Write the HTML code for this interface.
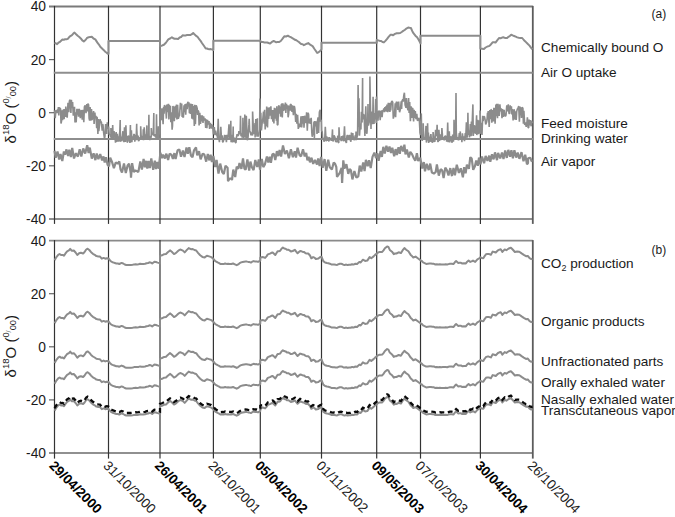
<!DOCTYPE html>
<html><head><meta charset="utf-8"><style>
html,body{margin:0;padding:0;background:#fff;}
body{width:675px;height:517px;overflow:hidden;font-family:"Liberation Sans",sans-serif;}
svg{display:block;}
</style></head><body>
<svg width="675" height="517" viewBox="0 0 675 517">
<rect width="675" height="517" fill="#fff"/>
<line x1="49" y1="6.5" x2="532.8" y2="6.5" stroke="#7a7a7a" stroke-width="1.8"/>
<line x1="49" y1="218.9" x2="532.8" y2="218.9" stroke="#909090" stroke-width="2"/>
<line x1="49" y1="59.6" x2="54.5" y2="59.6" stroke="#666" stroke-width="1.2"/>
<line x1="49" y1="112.7" x2="54.5" y2="112.7" stroke="#666" stroke-width="1.2"/>
<line x1="49" y1="165.8" x2="54.5" y2="165.8" stroke="#666" stroke-width="1.2"/>
<line x1="49" y1="240.7" x2="532.8" y2="240.7" stroke="#8a8a8a" stroke-width="1.8"/>
<line x1="49" y1="453.1" x2="532.8" y2="453.1" stroke="#909090" stroke-width="2"/>
<line x1="49" y1="293.7" x2="54.5" y2="293.7" stroke="#666" stroke-width="1.2"/>
<line x1="49" y1="346.8" x2="54.5" y2="346.8" stroke="#666" stroke-width="1.2"/>
<line x1="49" y1="399.9" x2="54.5" y2="399.9" stroke="#666" stroke-width="1.2"/>
<line x1="54.5" y1="5.9" x2="54.5" y2="223.9" stroke="#333" stroke-width="1.2"/>
<line x1="54.5" y1="240.1" x2="54.5" y2="458.6" stroke="#333" stroke-width="1.2"/>
<line x1="108.5" y1="5.9" x2="108.5" y2="223.9" stroke="#333" stroke-width="1.2"/>
<line x1="108.5" y1="240.1" x2="108.5" y2="458.6" stroke="#333" stroke-width="1.2"/>
<line x1="160.0" y1="5.9" x2="160.0" y2="223.9" stroke="#333" stroke-width="1.2"/>
<line x1="160.0" y1="240.1" x2="160.0" y2="458.6" stroke="#333" stroke-width="1.2"/>
<line x1="213.4" y1="5.9" x2="213.4" y2="223.9" stroke="#333" stroke-width="1.2"/>
<line x1="213.4" y1="240.1" x2="213.4" y2="458.6" stroke="#333" stroke-width="1.2"/>
<line x1="260.3" y1="5.9" x2="260.3" y2="223.9" stroke="#333" stroke-width="1.2"/>
<line x1="260.3" y1="240.1" x2="260.3" y2="458.6" stroke="#333" stroke-width="1.2"/>
<line x1="321.5" y1="5.9" x2="321.5" y2="223.9" stroke="#333" stroke-width="1.2"/>
<line x1="321.5" y1="240.1" x2="321.5" y2="458.6" stroke="#333" stroke-width="1.2"/>
<line x1="376.7" y1="5.9" x2="376.7" y2="223.9" stroke="#333" stroke-width="1.2"/>
<line x1="376.7" y1="240.1" x2="376.7" y2="458.6" stroke="#333" stroke-width="1.2"/>
<line x1="420.5" y1="5.9" x2="420.5" y2="223.9" stroke="#333" stroke-width="1.2"/>
<line x1="420.5" y1="240.1" x2="420.5" y2="458.6" stroke="#333" stroke-width="1.2"/>
<line x1="480.4" y1="5.9" x2="480.4" y2="223.9" stroke="#333" stroke-width="1.2"/>
<line x1="480.4" y1="240.1" x2="480.4" y2="458.6" stroke="#333" stroke-width="1.2"/>
<line x1="532.8" y1="5.9" x2="532.8" y2="223.9" stroke="#5c5c5c" stroke-width="1.8"/>
<line x1="532.8" y1="240.1" x2="532.8" y2="458.6" stroke="#5c5c5c" stroke-width="1.8"/>
<line x1="53.8" y1="72.7" x2="532.8" y2="72.7" stroke="#8e8e8e" stroke-width="2"/>
<line x1="53.8" y1="139" x2="532.8" y2="139" stroke="#8e8e8e" stroke-width="2"/>
<polyline fill="none" stroke="#8c8c8c" stroke-width="2" stroke-linejoin="round" points="54.5,43.0 55.8,43.3 57.1,44.1 58.4,42.7 59.8,42.0 61.1,40.8 62.4,39.6 63.8,39.7 65.1,39.2 66.5,39.3 67.8,38.9 69.6,36.6 70.8,35.8 72.0,35.1 73.3,33.6 74.5,32.6 76.1,34.3 77.7,35.8 79.3,37.0 80.8,38.4 82.3,40.4 83.8,41.4 85.5,40.0 87.3,37.7 88.8,37.3 90.3,36.9 91.8,36.8 93.5,38.5 95.3,39.4 96.6,41.4 97.8,43.2 99.1,44.8 100.3,46.7 101.6,48.1 102.8,49.2 104.1,50.4 105.3,51.8 106.6,52.7 107.8,53.8 108.5,53.8 108.5,41.0 109.7,41.0 111.0,41.0 112.2,41.0 113.4,41.0 114.6,41.0 115.9,41.0 117.1,41.0 118.3,41.0 119.5,41.0 120.8,41.0 122.0,41.0 123.2,41.0 124.4,41.0 125.7,41.0 126.9,41.0 128.1,41.0 129.3,41.0 130.6,41.0 131.8,41.0 133.0,41.0 134.2,41.0 135.5,41.0 136.7,41.0 137.9,41.0 139.2,41.0 140.4,41.0 141.6,41.0 142.8,41.0 144.1,41.0 145.3,41.0 146.5,41.0 147.7,41.0 149.0,41.0 150.2,41.0 151.4,41.0 152.6,41.0 153.9,41.0 155.1,41.0 156.3,41.0 157.5,41.0 158.8,41.0 160.0,41.0 160.0,46.2 161.3,45.9 162.6,45.3 163.9,44.8 165.4,43.3 166.8,41.5 168.3,39.4 170.1,38.5 171.9,37.2 173.2,38.2 174.6,38.7 176.3,38.7 178.1,38.9 179.6,37.5 181.1,37.0 182.6,35.3 184.1,35.4 185.5,35.4 187.0,35.1 188.8,35.1 190.6,34.9 191.9,34.2 193.2,33.0 194.7,34.6 196.2,35.9 197.7,37.0 199.2,39.2 200.6,40.9 202.1,43.2 203.9,45.8 205.7,48.5 206.9,48.5 208.2,49.0 209.4,49.3 210.7,49.1 211.9,49.4 213.4,50.0 213.4,40.8 214.6,40.8 215.8,40.8 217.0,40.8 218.2,40.8 219.4,40.8 220.6,40.8 221.8,40.8 223.0,40.8 224.2,40.8 225.4,40.8 226.6,40.8 227.8,40.8 229.0,40.8 230.2,40.8 231.4,40.8 232.6,40.8 233.8,40.8 235.0,40.8 236.2,40.8 237.5,40.8 238.7,40.8 239.9,40.8 241.1,40.8 242.3,40.8 243.5,40.8 244.7,40.8 245.9,40.8 247.1,40.8 248.3,40.8 249.5,40.8 250.7,40.8 251.9,40.8 253.1,40.8 254.3,40.8 255.5,40.8 256.7,40.8 257.9,40.8 259.1,40.8 260.3,40.8 260.3,41.4 261.6,42.0 263.0,42.1 264.4,42.4 265.7,42.4 267.2,42.5 268.6,43.0 270.1,43.6 271.9,41.9 273.7,41.0 275.0,41.6 276.3,42.3 277.8,41.9 279.3,41.9 280.8,41.0 282.6,38.7 284.3,36.3 286.1,36.5 287.9,35.7 289.4,36.6 290.8,37.2 292.3,38.1 293.6,38.9 295.0,39.8 296.4,40.3 297.7,41.2 298.9,42.0 300.2,43.2 301.4,44.1 302.7,44.3 303.9,45.2 305.4,44.4 306.8,43.7 308.3,43.1 309.8,44.4 311.3,45.3 312.8,46.4 314.3,48.7 315.7,50.7 317.2,52.9 318.5,52.3 319.9,51.2 321.5,49.3 321.5,42.7 322.7,42.7 324.0,42.7 325.2,42.7 326.4,42.7 327.6,42.7 328.9,42.7 330.1,42.7 331.3,42.7 332.5,42.7 333.8,42.7 335.0,42.7 336.2,42.7 337.4,42.7 338.7,42.7 339.9,42.7 341.1,42.7 342.4,42.7 343.6,42.7 344.8,42.7 346.0,42.7 347.3,42.7 348.5,42.7 349.7,42.7 350.9,42.7 352.2,42.7 353.4,42.7 354.6,42.7 355.8,42.7 357.1,42.7 358.3,42.7 359.5,42.7 360.8,42.7 362.0,42.7 363.2,42.7 364.4,42.7 365.7,42.7 366.9,42.7 368.1,42.7 369.3,42.7 370.6,42.7 371.8,42.7 373.0,42.7 374.2,42.7 375.5,42.7 376.7,42.7 376.7,39.9 378.2,40.4 379.8,40.9 381.2,41.0 382.5,42.0 383.9,42.4 385.4,40.9 386.9,39.2 388.6,36.9 390.4,34.8 391.8,34.7 393.1,35.2 394.9,33.9 396.7,33.3 398.4,33.3 400.2,33.0 401.7,32.0 403.2,30.9 404.7,30.0 406.4,28.6 408.2,27.5 409.5,27.8 410.9,28.0 412.2,30.9 413.6,33.4 415.4,35.7 417.1,37.3 418.8,40.1 420.5,43.4 420.5,35.8 421.7,35.8 422.9,35.8 424.2,35.8 425.4,35.8 426.6,35.8 427.8,35.8 429.1,35.8 430.3,35.8 431.5,35.8 432.7,35.8 433.9,35.8 435.2,35.8 436.4,35.8 437.6,35.8 438.8,35.8 440.1,35.8 441.3,35.8 442.5,35.8 443.7,35.8 444.9,35.8 446.2,35.8 447.4,35.8 448.6,35.8 449.8,35.8 451.1,35.8 452.3,35.8 453.5,35.8 454.7,35.8 456.0,35.8 457.2,35.8 458.4,35.8 459.6,35.8 460.8,35.8 462.1,35.8 463.3,35.8 464.5,35.8 465.7,35.8 467.0,35.8 468.2,35.8 469.4,35.8 470.6,35.8 471.8,35.8 473.1,35.8 474.3,35.8 475.5,35.8 476.7,35.8 478.0,35.8 479.2,35.8 480.4,35.8 480.4,48.5 482.1,48.8 483.9,49.1 485.6,47.5 487.4,46.5 488.9,46.1 490.3,45.2 492.6,42.3 494.1,42.3 495.5,42.6 497.2,40.4 499.0,38.0 500.6,38.2 502.1,37.6 503.7,37.3 505.4,38.1 507.1,38.0 508.5,36.8 509.8,36.0 511.2,34.7 512.6,35.4 514.1,36.0 515.7,36.7 517.2,37.4 518.8,37.8 520.5,38.0 522.2,38.0 523.8,40.0 525.3,41.4 526.9,43.1 528.3,44.4 529.7,45.9 531.1,47.8 532.5,49.2"/>
<polyline fill="none" stroke="#8c8c8c" stroke-width="1.6" stroke-linejoin="bevel" points="54.5,110.3 55.2,118.1 55.9,110.9 56.3,110.5 57.0,113.1 57.5,109.4 57.8,112.8 58.4,107.0 58.8,115.5 59.2,107.6 59.8,108.1 60.6,109.1 61.0,123.6 61.5,121.3 62.1,110.3 62.6,120.2 63.2,109.8 63.7,110.1 64.1,119.2 64.7,109.1 65.4,116.9 65.8,106.6 66.6,115.5 67.2,117.6 68.0,102.8 68.8,112.3 69.4,100.9 70.2,99.8 70.9,113.0 71.4,99.8 72.1,108.2 72.6,102.0 73.3,115.6 73.7,111.7 74.5,106.8 75.0,122.4 75.3,112.3 75.7,121.9 76.2,121.7 76.9,108.8 77.5,114.6 77.9,108.9 78.5,116.8 78.9,109.2 79.6,109.8 80.3,118.2 81.0,111.1 81.7,110.2 82.2,119.8 83.0,109.7 83.8,122.1 84.4,106.9 85.2,105.4 86.0,113.2 86.8,104.1 87.3,111.5 87.9,103.6 88.6,104.9 89.1,118.4 89.6,120.5 90.1,107.1 90.8,120.6 91.5,109.1 92.0,120.2 92.8,116.4 93.6,111.0 94.1,123.9 94.9,112.5 95.3,118.1 96.0,115.9 96.7,128.3 97.1,116.7 97.9,133.9 98.4,119.0 98.8,131.1 99.6,124.3 100.1,119.3 100.6,121.5 101.4,122.1 102.2,130.8 102.6,124.2 103.0,124.9 103.6,132.3 104.4,138.2 104.9,137.0 105.6,124.0 106.2,129.3 106.7,134.0 107.3,122.4 107.9,128.8 108.6,126.5 109.2,134.8 109.6,134.4 110.2,135.3 110.9,137.5 110.9,128.1 111.5,136.4 112.2,139.0 112.7,125.0 113.2,139.6 114.0,131.3 114.8,134.7 115.5,142.6 116.3,137.5 116.2,132.1 116.7,141.9 117.2,133.9 117.8,141.3 118.4,136.3 118.7,141.7 119.4,134.9 119.8,131.8 120.2,120.1 120.4,141.5 120.7,141.2 121.4,136.5 121.9,141.1 122.3,136.4 122.9,131.2 123.1,140.3 123.5,135.0 123.9,142.1 124.5,127.3 125.2,142.0 125.9,125.2 126.4,140.2 126.9,136.1 127.0,142.1 127.7,142.0 128.3,135.5 129.1,138.2 129.9,142.9 130.4,125.0 130.7,142.4 131.4,130.2 131.9,142.3 132.3,136.3 133.2,139.8 133.7,135.4 134.0,133.9 134.4,135.0 134.8,141.7 135.6,134.8 136.1,140.3 136.7,123.8 136.7,128.1 137.4,139.9 138.1,135.5 138.5,141.1 139.2,140.1 140.0,137.3 140.6,139.1 140.7,126.3 141.1,135.3 141.7,139.0 142.4,136.0 143.0,138.6 143.3,129.4 143.5,140.2 144.2,127.2 145.0,139.4 145.8,134.3 146.4,139.1 146.9,125.4 147.0,139.4 147.8,135.5 148.5,139.6 148.9,114.8 149.1,135.8 149.8,140.1 150.5,135.8 151.2,137.7 151.3,128.1 151.9,135.1 152.6,133.2 153.3,134.4 153.8,113.0 153.9,136.1 154.7,134.1 155.4,136.9 156.2,137.1 156.5,114.3 156.9,138.1 157.5,134.1 158.2,139.3 158.4,126.3 158.9,131.7 159.6,134.6 160.1,109.0 160.5,120.4 161.0,108.5 161.5,120.3 162.1,108.2 162.7,117.5 163.1,124.2 163.6,106.7 164.1,113.8 164.5,105.0 165.2,106.5 165.6,105.9 166.4,118.6 166.8,105.3 167.3,104.7 167.8,112.2 168.4,103.9 168.9,119.4 169.3,104.8 169.8,114.0 170.4,105.7 170.8,122.3 171.5,112.3 172.1,129.7 172.5,126.0 172.9,106.1 173.6,107.5 174.3,121.3 175.2,106.0 175.5,106.4 176.1,117.8 176.5,104.6 176.9,119.4 177.6,104.9 178.3,118.7 179.1,115.9 179.5,115.7 180.4,102.8 180.9,109.5 181.7,103.6 182.1,116.8 182.7,116.5 183.4,117.5 184.0,105.4 184.5,112.2 185.1,104.1 185.7,114.6 186.4,103.5 187.2,109.2 187.8,101.7 188.4,106.5 188.9,102.2 189.4,113.3 189.9,103.5 190.4,114.0 191.2,103.9 191.9,118.6 192.4,104.1 193.2,119.5 193.7,106.1 194.3,126.1 194.7,104.8 195.4,124.2 196.1,105.2 196.7,106.6 197.2,108.4 197.6,114.9 198.0,110.5 198.6,111.4 199.1,125.5 199.8,112.9 200.5,124.0 201.2,115.3 201.7,121.4 202.3,115.4 203.0,122.9 203.6,116.3 204.3,120.6 205.1,118.4 205.7,127.9 206.3,119.3 206.9,128.1 207.5,119.8 208.3,124.5 209.0,121.0 209.6,129.0 210.4,122.8 210.9,128.1 211.6,124.2 212.2,128.8 212.6,125.1 213.5,134.5 214.3,127.0 215.0,135.1 215.6,130.7 216.3,134.3 217.2,135.9 217.6,138.1 218.2,118.8 218.8,137.2 219.4,142.2 219.8,137.0 220.2,139.9 220.8,126.7 221.5,139.1 222.1,135.4 222.6,141.9 223.1,142.0 223.7,140.1 224.6,134.8 225.2,139.1 225.7,135.0 226.4,142.1 226.9,134.7 227.6,138.7 228.3,134.1 229.0,124.4 229.6,138.7 230.1,136.4 230.6,135.7 230.8,120.7 231.1,142.3 231.7,134.7 232.4,142.4 232.9,137.4 233.2,126.5 233.3,136.8 234.0,142.1 234.5,137.5 235.0,140.8 235.5,142.6 236.0,142.7 236.5,137.1 237.1,134.2 237.7,136.0 238.4,135.4 238.9,131.1 239.5,134.3 240.2,131.3 240.5,115.8 241.0,136.2 241.7,133.4 242.2,137.7 242.8,132.0 242.9,117.7 243.6,137.9 244.0,131.9 244.6,132.2 244.8,114.4 245.2,137.5 245.6,131.5 246.2,139.6 246.3,115.8 246.9,129.8 247.3,140.3 248.1,137.0 248.9,124.9 249.2,118.7 249.7,132.1 250.3,131.5 251.0,135.4 251.8,132.3 252.5,135.6 252.6,111.5 253.2,124.6 253.8,134.0 254.2,132.0 254.6,129.5 255.0,123.1 255.1,137.5 255.8,119.1 256.5,129.5 257.0,136.7 257.4,118.2 257.5,132.3 258.3,136.6 258.9,134.8 259.6,129.5 259.9,98.4 260.4,117.5 260.8,112.7 261.4,130.4 262.2,122.4 262.9,118.3 263.5,111.6 264.1,123.8 264.6,109.7 265.2,129.5 265.8,116.7 266.2,126.3 266.7,106.5 267.5,127.5 268.1,107.4 268.7,118.9 269.6,107.2 270.1,115.6 270.9,106.4 271.5,119.2 272.2,110.1 272.9,121.8 273.3,110.1 273.9,123.4 274.4,107.7 274.9,118.8 275.8,108.2 276.4,120.7 276.8,106.3 277.3,125.0 277.9,124.8 278.6,105.7 279.1,105.7 279.7,113.7 280.1,106.5 280.6,116.6 281.2,104.9 281.9,103.8 282.3,117.5 282.9,103.3 283.3,110.9 284.0,104.6 284.7,110.5 285.4,102.5 285.8,113.0 286.5,103.8 287.0,108.7 287.7,105.2 288.1,117.3 288.6,114.4 289.3,105.5 290.1,110.7 290.4,104.3 291.2,104.8 291.8,111.8 292.6,105.4 293.4,115.1 293.9,106.4 294.5,106.6 294.9,109.1 295.7,121.9 296.1,113.7 296.9,123.8 297.6,114.9 298.3,128.9 299.1,123.7 299.6,126.8 300.2,126.6 301.0,116.2 301.7,127.5 302.5,116.0 303.1,123.6 303.5,116.1 304.0,127.8 304.6,115.7 305.2,120.1 306.0,123.0 306.6,112.4 307.3,130.8 308.1,112.8 308.6,114.4 309.0,123.4 309.8,118.5 310.4,123.9 311.2,117.8 311.8,132.5 312.2,136.8 312.7,134.5 313.2,131.7 314.0,121.6 314.4,138.3 314.8,121.0 315.5,126.3 316.3,121.4 317.0,134.0 317.5,120.8 318.1,117.3 318.6,133.0 319.4,112.0 320.2,109.9 320.6,121.5 321.3,119.8 321.6,130.6 322.2,131.9 322.6,137.5 323.2,138.5 323.5,139.3 324.2,141.7 324.8,137.5 325.3,126.7 326.1,141.3 326.7,136.5 327.4,140.9 328.2,137.4 328.9,141.5 329.5,137.1 330.2,140.1 330.9,138.4 331.5,140.8 332.0,137.8 332.5,129.4 332.7,140.3 333.3,141.4 334.0,135.4 334.9,137.2 335.7,141.5 336.5,141.9 337.2,141.1 337.8,135.7 338.4,142.5 338.8,142.8 339.0,127.2 339.5,137.2 339.9,139.8 340.6,138.2 341.2,141.1 341.5,136.1 342.1,140.4 342.8,135.7 343.1,140.4 343.7,141.1 344.5,126.2 345.0,140.1 345.6,141.1 346.4,142.9 347.0,135.2 346.8,139.4 347.5,134.8 348.1,139.2 348.5,139.9 349.1,135.6 349.9,135.5 350.4,140.7 350.9,141.6 351.4,132.5 352.1,138.2 352.5,139.3 352.8,133.0 353.1,137.0 353.7,139.6 354.5,139.6 355.2,135.4 355.8,140.1 356.0,131.6 356.2,139.9 356.8,138.2 357.6,134.5 358.1,85.0 358.7,127.0 359.0,98.3 359.5,135.7 360.3,123.5 360.9,129.6 361.4,111.8 362.1,122.6 362.6,78.0 362.7,119.5 363.3,114.4 364.1,115.3 364.9,136.0 365.6,112.1 365.8,106.2 366.4,132.0 366.9,133.7 367.7,120.4 368.0,104.0 368.4,125.7 369.2,122.1 369.8,120.2 369.9,76.5 370.6,113.8 371.0,128.9 371.4,111.5 372.1,121.5 372.7,124.2 373.1,96.8 373.3,118.2 374.0,123.9 374.7,113.1 375.1,116.3 375.7,99.0 375.6,113.0 376.2,123.1 376.5,96.6 376.8,111.9 377.3,111.7 378.0,120.6 378.6,110.8 379.1,111.3 379.5,110.9 380.2,120.1 380.8,110.9 381.2,113.9 381.6,110.4 382.1,117.1 382.7,110.4 383.3,111.0 383.8,108.5 384.4,112.1 384.9,107.1 385.5,111.4 386.1,106.0 386.6,111.6 387.0,104.5 387.7,112.1 388.3,102.7 388.9,111.5 389.3,103.1 389.9,111.9 390.3,102.7 390.7,110.5 391.3,102.6 391.9,101.0 392.7,102.1 393.3,118.7 393.8,116.4 394.6,113.3 395.2,103.2 395.6,117.3 396.3,101.8 396.7,102.7 397.2,101.9 397.9,110.0 398.7,101.6 399.1,109.2 399.6,112.2 400.5,108.8 401.2,101.4 401.6,109.0 402.0,101.1 402.8,99.4 403.2,101.7 403.8,95.4 404.4,92.7 405.1,105.0 406.0,107.7 406.4,98.0 406.8,104.6 407.4,107.8 408.0,110.2 408.6,98.0 409.1,113.0 409.7,102.1 410.4,121.1 411.1,106.4 411.7,117.9 412.2,108.0 412.8,108.6 413.6,121.5 414.1,109.9 414.8,117.9 415.3,111.0 416.0,119.3 416.8,113.9 417.5,120.8 418.2,119.8 418.8,117.9 419.3,119.1 420.0,132.7 420.6,135.1 421.3,113.4 421.7,136.2 422.1,140.7 422.6,139.5 423.3,133.8 423.2,123.3 423.7,139.3 424.3,137.3 424.9,139.0 425.4,137.3 426.0,125.9 426.4,142.6 427.1,138.8 427.6,123.3 428.0,140.4 428.4,132.6 428.7,143.0 429.4,136.9 429.9,142.0 430.4,136.5 430.9,134.1 431.5,141.2 432.3,142.3 432.9,142.1 433.1,132.0 433.6,137.1 434.4,141.3 434.9,141.7 435.6,129.9 436.3,136.0 436.7,135.3 437.1,124.7 437.7,141.4 438.3,141.7 438.9,136.5 438.9,129.7 439.6,140.9 440.1,134.3 440.7,139.3 441.5,139.4 441.9,128.0 442.4,134.9 442.4,136.8 442.9,139.1 443.4,136.8 444.2,140.3 444.8,136.4 445.5,136.0 446.1,137.0 446.7,141.7 447.3,136.8 447.7,122.6 448.2,142.3 448.8,135.4 449.3,131.4 449.7,142.4 450.4,138.1 451.2,136.4 451.6,140.8 452.1,142.8 452.7,134.5 453.4,141.7 453.9,136.7 454.0,119.8 454.6,139.2 455.1,138.3 455.6,136.3 456.0,93.1 456.3,132.5 457.0,139.4 457.6,139.3 458.1,137.1 458.6,140.4 459.3,133.0 460.0,136.5 460.3,131.4 460.5,139.8 461.4,136.3 461.9,142.3 462.4,133.4 463.0,138.6 463.8,136.3 464.5,141.1 465.3,133.0 465.7,139.1 466.4,122.2 467.2,137.7 467.8,124.9 467.9,112.8 468.3,135.0 468.9,130.6 469.5,137.5 470.3,124.0 471.0,136.3 471.4,121.5 471.4,135.8 472.2,122.9 472.9,104.4 473.3,135.9 473.7,127.9 474.0,125.0 474.8,133.5 475.1,125.6 476.0,133.8 476.4,119.2 476.6,115.2 476.8,135.1 477.2,125.0 477.6,119.7 478.2,134.3 479.0,120.2 479.5,133.8 480.2,124.7 480.1,110.5 480.5,126.1 481.1,134.0 481.6,122.8 482.0,134.9 482.7,115.8 483.1,121.1 483.8,116.7 484.5,116.6 485.1,119.7 485.7,124.4 486.5,122.5 487.0,120.0 487.5,112.9 487.8,116.6 488.2,111.1 488.7,119.4 489.2,126.9 489.8,110.0 490.2,119.2 491.0,109.6 491.4,109.7 491.8,122.7 492.3,119.0 492.9,110.0 493.4,121.5 493.8,108.5 494.3,108.0 495.1,123.6 495.9,104.6 496.3,116.3 496.7,103.9 497.5,118.2 498.0,103.9 498.4,108.2 499.2,115.9 499.9,104.2 500.5,111.4 501.3,108.3 502.0,118.3 502.5,109.1 503.3,116.9 504.1,109.8 504.7,115.5 505.4,116.3 506.0,115.1 506.8,105.3 507.6,111.3 508.3,104.3 509.0,113.4 509.7,113.6 510.2,105.4 510.7,108.9 511.4,106.2 511.9,114.5 512.4,109.0 513.1,120.4 513.9,109.6 514.3,110.1 515.0,119.7 515.4,111.3 516.2,120.0 516.7,111.6 517.3,109.1 517.9,108.4 518.7,106.0 519.4,121.6 520.0,106.5 520.6,115.1 521.0,107.3 521.5,117.9 522.1,107.2 522.9,108.2 523.4,123.7 523.9,110.9 524.7,125.0 525.4,122.4 526.2,126.9 527.0,121.8 527.4,117.3 528.1,127.7 528.7,127.7 529.1,119.6 529.9,125.3 530.5,120.1 531.2,126.3 531.6,120.9 532.4,123.3"/>
<polyline fill="none" stroke="#8c8c8c" stroke-width="2.2" stroke-linejoin="bevel" points="54.5,150.7 55.7,157.8 57.5,151.5 59.2,159.6 60.5,153.9 62.3,161.0 63.9,151.5 65.1,154.6 66.5,149.4 68.1,156.1 69.3,149.8 70.9,157.1 72.2,148.0 74.0,158.5 75.9,153.2 77.9,156.6 79.7,149.3 81.3,156.6 83.2,148.4 85.2,153.5 87.2,145.2 88.6,153.0 89.8,147.6 91.8,158.6 93.6,153.3 95.4,160.1 96.7,153.5 98.4,159.1 100.2,154.2 102.1,160.3 103.5,156.4 104.7,162.5 106.0,157.3 107.6,164.8 109.0,166.4 110.2,157.6 112.0,161.9 113.9,168.2 115.7,162.6 117.8,163.6 119.3,161.3 120.5,169.2 122.0,172.5 124.0,163.5 125.8,173.0 127.6,165.4 129.1,163.6 130.8,173.6 131.0,177.7 132.1,163.1 133.8,172.0 135.4,170.4 136.6,170.9 138.3,172.1 140.3,161.5 141.9,169.6 143.6,159.0 144.9,167.3 146.1,160.8 147.3,168.5 148.5,161.0 149.8,168.0 151.3,158.4 153.2,169.7 154.8,160.6 156.0,169.1 157.2,162.0 158.7,168.7 160.4,152.7 161.9,158.2 163.1,154.7 164.9,158.4 166.4,153.7 168.1,160.0 169.6,153.7 171.4,154.7 172.9,158.9 174.4,153.1 175.6,159.0 177.6,150.2 179.4,149.5 181.0,156.8 182.9,150.5 184.5,157.0 186.5,147.6 187.8,153.8 189.3,147.3 191.0,155.8 192.5,157.2 194.0,150.3 196.0,147.4 197.2,155.4 199.0,151.2 200.6,159.3 202.7,153.6 204.3,154.5 206.2,161.6 207.8,153.9 209.4,160.4 210.6,154.6 211.9,162.0 213.4,156.0 215.2,167.0 216.6,160.0 218.5,173.6 220.2,163.6 222.2,172.1 223.8,174.0 225.5,165.8 227.6,167.7 228.0,181.2 229.6,178.7 231.5,178.7 232.0,180.0 233.3,169.6 235.2,177.0 236.7,166.6 238.3,168.9 239.5,163.0 241.4,168.8 243.0,158.4 244.4,168.5 245.6,169.9 247.4,159.5 249.2,170.6 250.4,161.6 252.0,167.5 253.6,170.1 255.3,160.0 257.2,167.0 258.8,159.5 260.0,169.7 261.8,158.9 263.3,167.1 265.0,164.1 266.9,156.6 268.3,162.5 269.7,156.7 270.9,162.7 272.4,154.3 273.9,153.9 275.3,160.0 276.9,151.1 278.3,156.1 279.6,149.9 281.1,156.5 283.0,145.4 284.9,154.0 286.9,150.5 288.9,158.2 290.9,149.3 292.9,157.2 294.7,151.3 296.0,157.6 297.6,147.7 299.6,155.3 301.1,156.2 303.0,149.2 304.7,156.4 306.2,152.9 307.4,160.4 308.6,156.7 310.0,162.3 311.5,157.7 313.2,163.9 315.0,160.0 317.0,164.5 318.2,158.4 319.6,166.0 321.1,156.9 322.7,167.8 324.6,159.1 326.3,170.9 328.2,159.7 329.8,167.3 331.9,169.5 333.7,162.5 335.1,163.9 336.3,167.0 337.0,176.8 337.6,176.0 339.6,173.2 341.6,168.0 342.1,183.0 343.3,160.4 344.4,168.5 346.4,164.2 348.3,173.9 349.6,169.1 350.9,170.3 352.4,179.4 354.4,171.0 356.4,177.7 358.3,176.3 359.7,165.6 361.3,171.4 363.2,162.5 364.6,171.0 365.9,159.8 367.7,166.3 369.0,160.2 370.7,168.0 372.5,156.9 374.4,152.6 376.1,158.3 377.3,153.2 378.6,160.8 380.6,150.9 381.9,156.9 383.3,146.8 384.8,153.4 386.4,145.8 388.1,151.8 389.5,146.5 391.0,153.1 392.3,147.7 394.2,156.2 395.6,149.1 396.9,155.0 398.5,147.1 399.8,153.7 401.1,145.9 403.1,151.5 404.4,144.6 405.5,154.4 406.9,149.6 408.8,157.5 410.3,151.9 412.0,154.1 413.7,158.0 415.3,160.8 416.9,153.1 418.2,161.0 420.2,157.7 422.2,168.5 423.8,162.1 425.0,171.3 426.7,163.8 428.7,170.1 430.2,163.6 431.9,172.6 433.9,173.6 435.7,172.0 436.9,164.5 438.8,175.6 440.6,169.2 442.2,170.4 443.6,178.0 445.3,167.6 447.0,170.4 448.5,175.5 450.3,168.1 451.8,175.6 452.0,175.9 453.5,168.0 454.9,175.4 456.8,164.8 458.9,172.9 460.8,168.3 462.9,177.3 464.1,167.2 465.6,173.3 466.9,164.7 468.9,168.9 470.3,157.2 471.7,158.6 473.2,169.8 474.9,166.2 476.2,160.6 477.8,165.8 479.0,157.6 480.5,164.4 482.0,156.5 484.1,163.3 485.6,156.0 487.5,160.9 489.2,155.6 490.3,161.7 492.0,154.3 493.6,159.4 495.0,152.4 497.0,160.1 498.1,152.8 500.2,158.4 502.0,152.6 503.5,159.1 505.2,150.5 506.8,157.9 508.3,149.9 510.1,156.7 511.4,150.1 512.9,158.2 514.4,150.3 516.2,157.6 517.7,152.6 519.4,158.8 521.5,152.2 523.5,161.2 525.2,154.7 527.0,164.3 528.0,163.0 528.1,158.3 530.2,157.7 532.0,161.8"/>
<polyline fill="none" stroke="#8c8c8c" stroke-width="2" stroke-linejoin="round" points="54.6,260.3 56.4,257.1 58.2,254.9 59.6,254.0 61.3,255.1 62.7,254.9 64.0,255.8 65.3,253.7 67.1,251.3 68.9,250.4 70.2,248.9 71.6,250.7 73.8,250.5 75.6,252.5 77.3,255.0 79.1,253.3 80.9,252.7 83.1,253.5 84.4,252.3 86.2,249.5 87.6,248.7 89.3,250.0 91.1,252.2 92.9,253.8 94.7,254.8 96.4,256.1 98.2,256.4 100.0,256.6 101.8,258.7 103.6,257.9 105.3,258.7 106.9,258.2 108.5,258.5 109.9,260.2 111.3,261.6 112.5,262.2 113.7,262.6 114.9,263.0 116.4,263.6 117.8,263.5 119.3,264.0 121.6,262.9 123.2,263.5 124.7,264.5 126.2,265.0 127.6,265.0 129.1,265.0 130.9,265.0 132.7,264.8 134.2,264.4 135.6,264.2 137.1,264.4 138.6,264.2 140.1,263.7 141.6,264.0 143.3,264.1 145.1,263.8 146.6,263.2 148.1,263.0 149.6,262.3 150.9,262.6 152.2,263.5 154.4,261.8 156.0,262.0 157.6,262.6 158.8,262.9 160.0,263.5 160.0,255.9 162.0,255.3 164.2,254.2 166.0,254.0 167.8,252.2 170.0,250.4 171.8,251.8 174.0,254.1 175.8,253.1 178.0,251.0 179.3,249.9 180.7,249.6 182.9,250.6 184.7,252.4 186.9,249.9 188.7,248.1 190.9,249.2 192.7,249.0 194.4,250.0 196.2,250.5 198.0,252.9 200.2,255.3 202.4,256.9 204.7,257.4 206.9,255.7 209.1,256.4 211.3,257.1 213.4,258.8 215.3,261.1 217.6,262.4 219.1,263.1 220.7,264.1 222.2,264.0 223.6,264.1 225.1,263.5 226.6,263.9 228.1,263.8 229.6,263.9 231.3,264.0 233.1,263.5 234.9,264.3 236.7,265.2 238.2,264.4 239.6,263.2 241.1,262.4 242.6,262.0 244.1,261.7 245.6,261.5 246.9,261.6 248.2,261.9 249.6,262.1 250.9,262.6 252.2,261.7 253.6,261.1 255.1,261.5 256.5,261.4 258.0,261.9 260.3,260.6 260.3,257.7 262.0,257.1 263.6,257.3 265.1,257.9 266.5,256.4 267.8,254.4 270.0,253.6 271.4,252.8 272.7,252.5 274.0,253.7 275.3,255.0 277.6,251.2 278.9,251.2 280.2,250.8 281.5,248.8 282.9,247.6 284.2,248.4 285.6,248.7 286.9,249.7 288.2,249.7 289.5,250.4 290.9,251.4 292.7,251.0 294.9,249.8 296.2,251.6 297.6,253.3 298.9,252.1 300.2,250.9 301.5,251.3 302.9,251.9 304.2,252.1 305.6,253.2 306.9,253.5 308.2,253.5 310.0,255.5 311.3,258.3 313.1,257.1 314.5,257.6 315.8,259.0 317.1,258.7 318.4,258.5 319.9,257.3 321.5,256.7 323.3,261.1 325.1,262.5 326.9,263.0 328.4,263.2 329.8,263.7 331.3,264.4 332.8,264.6 334.3,264.5 335.8,264.8 337.1,264.9 338.5,264.2 339.8,263.8 341.0,263.7 342.2,264.0 343.5,264.8 344.7,264.9 346.2,264.6 347.6,265.1 349.1,264.8 350.6,264.8 352.1,264.2 353.6,264.6 355.4,263.7 357.1,264.0 359.3,261.9 360.7,262.5 362.9,259.7 365.1,260.9 367.3,260.6 369.6,257.1 371.3,258.2 373.6,256.4 375.1,254.9 376.7,253.6 377.9,252.7 379.1,252.1 380.6,252.0 382.2,251.9 383.5,250.4 384.9,248.3 387.1,246.4 388.4,246.9 389.8,249.9 392.0,251.7 393.8,254.2 395.1,253.5 396.4,253.5 398.7,252.3 400.9,253.1 402.7,250.2 404.4,248.1 406.2,249.7 408.4,251.3 410.7,254.9 412.0,256.1 413.3,257.5 415.6,256.6 417.8,258.2 419.1,259.2 420.5,260.3 421.8,261.0 423.1,262.4 424.6,263.1 426.2,263.9 427.8,263.7 429.4,263.6 430.9,263.5 432.4,263.7 433.9,263.8 435.4,264.5 436.8,264.3 438.3,264.5 439.8,264.2 441.3,264.5 442.8,264.4 444.3,264.4 445.7,264.3 447.2,264.5 448.5,264.1 449.9,263.7 451.6,263.7 453.4,264.1 454.8,262.3 456.1,261.1 458.3,262.9 459.6,262.8 461.0,262.8 462.3,263.5 464.1,263.2 465.9,263.4 467.2,261.7 468.6,260.5 470.3,261.9 471.6,261.4 473.0,260.6 475.2,261.9 477.4,259.4 478.9,258.5 480.4,257.3 481.9,258.0 483.3,258.2 484.6,256.1 486.0,254.3 487.4,253.9 488.7,253.9 490.9,254.7 492.7,251.6 494.2,252.0 495.8,252.5 498.0,250.3 499.4,249.6 500.7,249.2 502.4,251.9 504.7,249.4 506.4,250.2 508.7,248.5 510.9,247.7 512.7,249.5 514.9,252.0 517.1,251.6 519.3,251.7 521.6,253.4 523.8,254.9 526.0,256.2 527.8,255.9 529.6,258.2 531.3,259.1 532.5,258.7"/>
<polyline fill="none" stroke="#8c8c8c" stroke-width="2" stroke-linejoin="round" points="54.6,323.3 56.4,320.1 58.2,317.9 59.6,317.0 61.3,318.1 62.7,317.9 64.0,318.8 65.3,316.7 67.1,314.3 68.9,313.4 70.2,311.9 71.6,313.7 73.8,313.5 75.6,315.5 77.3,318.0 79.1,316.3 80.9,315.7 83.1,316.5 84.4,315.3 86.2,312.5 87.6,311.7 89.3,313.0 91.1,315.2 92.9,316.8 94.7,317.8 96.4,319.1 98.2,319.4 100.0,319.6 101.8,321.7 103.6,320.9 105.3,321.7 106.9,321.2 108.5,321.5 109.9,323.2 111.3,324.6 112.5,325.2 113.7,325.6 114.9,326.0 116.4,326.6 117.8,326.5 119.3,327.0 121.6,325.9 123.2,326.5 124.7,327.5 126.2,328.0 127.6,328.0 129.1,328.0 130.9,328.0 132.7,327.8 134.2,327.4 135.6,327.2 137.1,327.4 138.6,327.2 140.1,326.7 141.6,327.0 143.3,327.1 145.1,326.8 146.6,326.2 148.1,326.0 149.6,325.3 150.9,325.6 152.2,326.5 154.4,324.8 156.0,325.0 157.6,325.6 158.8,325.9 160.0,326.5 160.0,318.9 162.0,318.3 164.2,317.2 166.0,317.0 167.8,315.2 170.0,313.4 171.8,314.8 174.0,317.1 175.8,316.1 178.0,314.0 179.3,312.9 180.7,312.6 182.9,313.6 184.7,315.4 186.9,312.9 188.7,311.1 190.9,312.2 192.7,312.0 194.4,313.0 196.2,313.5 198.0,315.9 200.2,318.3 202.4,319.9 204.7,320.4 206.9,318.7 209.1,319.4 211.3,320.1 213.4,321.8 215.3,324.1 217.6,325.4 219.1,326.1 220.7,327.1 222.2,327.0 223.6,327.1 225.1,326.5 226.6,326.9 228.1,326.8 229.6,326.9 231.3,327.0 233.1,326.5 234.9,327.3 236.7,328.2 238.2,327.4 239.6,326.2 241.1,325.4 242.6,325.0 244.1,324.7 245.6,324.5 246.9,324.6 248.2,324.9 249.6,325.1 250.9,325.6 252.2,324.7 253.6,324.1 255.1,324.5 256.5,324.4 258.0,324.9 260.3,323.6 260.3,320.7 262.0,320.1 263.6,320.3 265.1,320.9 266.5,319.4 267.8,317.4 270.0,316.6 271.4,315.8 272.7,315.5 274.0,316.7 275.3,318.0 277.6,314.2 278.9,314.2 280.2,313.8 281.5,311.8 282.9,310.6 284.2,311.4 285.6,311.7 286.9,312.7 288.2,312.7 289.5,313.4 290.9,314.4 292.7,314.0 294.9,312.8 296.2,314.6 297.6,316.3 298.9,315.1 300.2,313.9 301.5,314.3 302.9,314.9 304.2,315.1 305.6,316.2 306.9,316.5 308.2,316.5 310.0,318.5 311.3,321.3 313.1,320.1 314.5,320.6 315.8,322.0 317.1,321.7 318.4,321.5 319.9,320.3 321.5,319.7 323.3,324.1 325.1,325.5 326.9,326.0 328.4,326.2 329.8,326.7 331.3,327.4 332.8,327.6 334.3,327.5 335.8,327.8 337.1,327.9 338.5,327.2 339.8,326.8 341.0,326.7 342.2,327.0 343.5,327.8 344.7,327.9 346.2,327.6 347.6,328.1 349.1,327.8 350.6,327.8 352.1,327.2 353.6,327.6 355.4,326.7 357.1,327.0 359.3,324.9 360.7,325.5 362.9,322.7 365.1,323.9 367.3,323.6 369.6,320.1 371.3,321.2 373.6,319.4 375.1,317.9 376.7,316.6 377.9,315.7 379.1,315.1 380.6,315.0 382.2,314.9 383.5,313.4 384.9,311.3 387.1,309.4 388.4,309.9 389.8,312.9 392.0,314.7 393.8,317.2 395.1,316.5 396.4,316.5 398.7,315.3 400.9,316.1 402.7,313.2 404.4,311.1 406.2,312.7 408.4,314.3 410.7,317.9 412.0,319.1 413.3,320.5 415.6,319.6 417.8,321.2 419.1,322.2 420.5,323.3 421.8,324.0 423.1,325.4 424.6,326.1 426.2,326.9 427.8,326.7 429.4,326.6 430.9,326.5 432.4,326.7 433.9,326.8 435.4,327.5 436.8,327.3 438.3,327.5 439.8,327.2 441.3,327.5 442.8,327.4 444.3,327.4 445.7,327.3 447.2,327.5 448.5,327.1 449.9,326.7 451.6,326.7 453.4,327.1 454.8,325.3 456.1,324.1 458.3,325.9 459.6,325.8 461.0,325.8 462.3,326.5 464.1,326.2 465.9,326.4 467.2,324.7 468.6,323.5 470.3,324.9 471.6,324.4 473.0,323.6 475.2,324.9 477.4,322.4 478.9,321.5 480.4,320.3 481.9,321.0 483.3,321.2 484.6,319.1 486.0,317.3 487.4,316.9 488.7,316.9 490.9,317.7 492.7,314.6 494.2,315.0 495.8,315.5 498.0,313.3 499.4,312.6 500.7,312.2 502.4,314.9 504.7,312.4 506.4,313.2 508.7,311.5 510.9,310.7 512.7,312.5 514.9,315.0 517.1,314.6 519.3,314.7 521.6,316.4 523.8,317.9 526.0,319.2 527.8,318.9 529.6,321.2 531.3,322.1 532.5,321.7"/>
<polyline fill="none" stroke="#8c8c8c" stroke-width="2" stroke-linejoin="round" points="54.6,363.0 56.4,359.8 58.2,357.6 59.6,356.7 61.3,357.8 62.7,357.6 64.0,358.5 65.3,356.4 67.1,354.0 68.9,353.1 70.2,351.6 71.6,353.4 73.8,353.2 75.6,355.2 77.3,357.7 79.1,356.0 80.9,355.4 83.1,356.2 84.4,355.0 86.2,352.2 87.6,351.4 89.3,352.7 91.1,354.9 92.9,356.5 94.7,357.5 96.4,358.8 98.2,359.1 100.0,359.3 101.8,361.4 103.6,360.6 105.3,361.4 106.9,360.9 108.5,361.2 109.9,362.9 111.3,364.3 112.5,364.9 113.7,365.3 114.9,365.7 116.4,366.3 117.8,366.2 119.3,366.7 121.6,365.6 123.2,366.2 124.7,367.2 126.2,367.7 127.6,367.7 129.1,367.7 130.9,367.7 132.7,367.5 134.2,367.1 135.6,366.9 137.1,367.1 138.6,366.9 140.1,366.4 141.6,366.7 143.3,366.8 145.1,366.5 146.6,365.9 148.1,365.7 149.6,365.0 150.9,365.3 152.2,366.2 154.4,364.5 156.0,364.7 157.6,365.3 158.8,365.6 160.0,366.2 160.0,358.6 162.0,358.0 164.2,356.9 166.0,356.7 167.8,354.9 170.0,353.1 171.8,354.5 174.0,356.8 175.8,355.8 178.0,353.7 179.3,352.6 180.7,352.3 182.9,353.3 184.7,355.1 186.9,352.6 188.7,350.8 190.9,351.9 192.7,351.7 194.4,352.7 196.2,353.2 198.0,355.6 200.2,358.0 202.4,359.6 204.7,360.1 206.9,358.4 209.1,359.1 211.3,359.8 213.4,361.5 215.3,363.8 217.6,365.1 219.1,365.8 220.7,366.8 222.2,366.7 223.6,366.8 225.1,366.2 226.6,366.6 228.1,366.5 229.6,366.6 231.3,366.7 233.1,366.2 234.9,367.0 236.7,367.9 238.2,367.1 239.6,365.9 241.1,365.1 242.6,364.7 244.1,364.4 245.6,364.2 246.9,364.3 248.2,364.6 249.6,364.8 250.9,365.3 252.2,364.4 253.6,363.8 255.1,364.2 256.5,364.1 258.0,364.6 260.3,363.3 260.3,360.4 262.0,359.8 263.6,360.0 265.1,360.6 266.5,359.1 267.8,357.1 270.0,356.3 271.4,355.5 272.7,355.2 274.0,356.4 275.3,357.7 277.6,353.9 278.9,353.9 280.2,353.5 281.5,351.5 282.9,350.3 284.2,351.1 285.6,351.4 286.9,352.4 288.2,352.4 289.5,353.1 290.9,354.1 292.7,353.7 294.9,352.5 296.2,354.3 297.6,356.0 298.9,354.8 300.2,353.6 301.5,354.0 302.9,354.6 304.2,354.8 305.6,355.9 306.9,356.2 308.2,356.2 310.0,358.2 311.3,361.0 313.1,359.8 314.5,360.3 315.8,361.7 317.1,361.4 318.4,361.2 319.9,360.0 321.5,359.4 323.3,363.8 325.1,365.2 326.9,365.7 328.4,365.9 329.8,366.4 331.3,367.1 332.8,367.3 334.3,367.2 335.8,367.5 337.1,367.6 338.5,366.9 339.8,366.5 341.0,366.4 342.2,366.7 343.5,367.5 344.7,367.6 346.2,367.3 347.6,367.8 349.1,367.5 350.6,367.5 352.1,366.9 353.6,367.3 355.4,366.4 357.1,366.7 359.3,364.6 360.7,365.2 362.9,362.4 365.1,363.6 367.3,363.3 369.6,359.8 371.3,360.9 373.6,359.1 375.1,357.6 376.7,356.3 377.9,355.4 379.1,354.8 380.6,354.7 382.2,354.6 383.5,353.1 384.9,351.0 387.1,349.1 388.4,349.6 389.8,352.6 392.0,354.4 393.8,356.9 395.1,356.2 396.4,356.2 398.7,355.0 400.9,355.8 402.7,352.9 404.4,350.8 406.2,352.4 408.4,354.0 410.7,357.6 412.0,358.8 413.3,360.2 415.6,359.3 417.8,360.9 419.1,361.9 420.5,363.0 421.8,363.7 423.1,365.1 424.6,365.8 426.2,366.6 427.8,366.4 429.4,366.3 430.9,366.2 432.4,366.4 433.9,366.5 435.4,367.2 436.8,367.0 438.3,367.2 439.8,366.9 441.3,367.2 442.8,367.1 444.3,367.1 445.7,367.0 447.2,367.2 448.5,366.8 449.9,366.4 451.6,366.4 453.4,366.8 454.8,365.0 456.1,363.8 458.3,365.6 459.6,365.5 461.0,365.5 462.3,366.2 464.1,365.9 465.9,366.1 467.2,364.4 468.6,363.2 470.3,364.6 471.6,364.1 473.0,363.3 475.2,364.6 477.4,362.1 478.9,361.2 480.4,360.0 481.9,360.7 483.3,360.9 484.6,358.8 486.0,357.0 487.4,356.6 488.7,356.6 490.9,357.4 492.7,354.3 494.2,354.7 495.8,355.2 498.0,353.0 499.4,352.3 500.7,351.9 502.4,354.6 504.7,352.1 506.4,352.9 508.7,351.2 510.9,350.4 512.7,352.2 514.9,354.7 517.1,354.3 519.3,354.4 521.6,356.1 523.8,357.6 526.0,358.9 527.8,358.6 529.6,360.9 531.3,361.8 532.5,361.4"/>
<polyline fill="none" stroke="#8c8c8c" stroke-width="2" stroke-linejoin="round" points="54.6,383.8 56.4,380.6 58.2,378.4 59.6,377.5 61.3,378.6 62.7,378.4 64.0,379.3 65.3,377.2 67.1,374.8 68.9,373.9 70.2,372.4 71.6,374.2 73.8,374.0 75.6,376.0 77.3,378.5 79.1,376.8 80.9,376.2 83.1,377.0 84.4,375.8 86.2,373.0 87.6,372.2 89.3,373.5 91.1,375.7 92.9,377.3 94.7,378.3 96.4,379.6 98.2,379.9 100.0,380.1 101.8,382.2 103.6,381.4 105.3,382.2 106.9,381.7 108.5,382.0 109.9,383.7 111.3,385.1 112.5,385.7 113.7,386.1 114.9,386.5 116.4,387.1 117.8,387.0 119.3,387.5 121.6,386.4 123.2,387.0 124.7,388.0 126.2,388.5 127.6,388.5 129.1,388.5 130.9,388.5 132.7,388.3 134.2,387.9 135.6,387.7 137.1,387.9 138.6,387.7 140.1,387.2 141.6,387.5 143.3,387.6 145.1,387.3 146.6,386.7 148.1,386.5 149.6,385.8 150.9,386.1 152.2,387.0 154.4,385.3 156.0,385.5 157.6,386.1 158.8,386.4 160.0,387.0 160.0,379.4 162.0,378.8 164.2,377.7 166.0,377.5 167.8,375.7 170.0,373.9 171.8,375.3 174.0,377.6 175.8,376.6 178.0,374.5 179.3,373.4 180.7,373.1 182.9,374.1 184.7,375.9 186.9,373.4 188.7,371.6 190.9,372.7 192.7,372.5 194.4,373.5 196.2,374.0 198.0,376.4 200.2,378.8 202.4,380.4 204.7,380.9 206.9,379.2 209.1,379.9 211.3,380.6 213.4,382.3 215.3,384.6 217.6,385.9 219.1,386.6 220.7,387.6 222.2,387.5 223.6,387.6 225.1,387.0 226.6,387.4 228.1,387.3 229.6,387.4 231.3,387.5 233.1,387.0 234.9,387.8 236.7,388.7 238.2,387.9 239.6,386.7 241.1,385.9 242.6,385.5 244.1,385.2 245.6,385.0 246.9,385.1 248.2,385.4 249.6,385.6 250.9,386.1 252.2,385.2 253.6,384.6 255.1,385.0 256.5,384.9 258.0,385.4 260.3,384.1 260.3,381.2 262.0,380.6 263.6,380.8 265.1,381.4 266.5,379.9 267.8,377.9 270.0,377.1 271.4,376.3 272.7,376.0 274.0,377.2 275.3,378.5 277.6,374.7 278.9,374.7 280.2,374.3 281.5,372.3 282.9,371.1 284.2,371.9 285.6,372.2 286.9,373.2 288.2,373.2 289.5,373.9 290.9,374.9 292.7,374.5 294.9,373.3 296.2,375.1 297.6,376.8 298.9,375.6 300.2,374.4 301.5,374.8 302.9,375.4 304.2,375.6 305.6,376.7 306.9,377.0 308.2,377.0 310.0,379.0 311.3,381.8 313.1,380.6 314.5,381.1 315.8,382.5 317.1,382.2 318.4,382.0 319.9,380.8 321.5,380.2 323.3,384.6 325.1,386.0 326.9,386.5 328.4,386.7 329.8,387.2 331.3,387.9 332.8,388.1 334.3,388.0 335.8,388.3 337.1,388.4 338.5,387.7 339.8,387.3 341.0,387.2 342.2,387.5 343.5,388.3 344.7,388.4 346.2,388.1 347.6,388.6 349.1,388.3 350.6,388.3 352.1,387.7 353.6,388.1 355.4,387.2 357.1,387.5 359.3,385.4 360.7,386.0 362.9,383.2 365.1,384.4 367.3,384.1 369.6,380.6 371.3,381.7 373.6,379.9 375.1,378.4 376.7,377.1 377.9,376.2 379.1,375.6 380.6,375.5 382.2,375.4 383.5,373.9 384.9,371.8 387.1,369.9 388.4,370.4 389.8,373.4 392.0,375.2 393.8,377.7 395.1,377.0 396.4,377.0 398.7,375.8 400.9,376.6 402.7,373.7 404.4,371.6 406.2,373.2 408.4,374.8 410.7,378.4 412.0,379.6 413.3,381.0 415.6,380.1 417.8,381.7 419.1,382.7 420.5,383.8 421.8,384.5 423.1,385.9 424.6,386.6 426.2,387.4 427.8,387.2 429.4,387.1 430.9,387.0 432.4,387.2 433.9,387.3 435.4,388.0 436.8,387.8 438.3,388.0 439.8,387.7 441.3,388.0 442.8,387.9 444.3,387.9 445.7,387.8 447.2,388.0 448.5,387.6 449.9,387.2 451.6,387.2 453.4,387.6 454.8,385.8 456.1,384.6 458.3,386.4 459.6,386.3 461.0,386.3 462.3,387.0 464.1,386.7 465.9,386.9 467.2,385.2 468.6,384.0 470.3,385.4 471.6,384.9 473.0,384.1 475.2,385.4 477.4,382.9 478.9,382.0 480.4,380.8 481.9,381.5 483.3,381.7 484.6,379.6 486.0,377.8 487.4,377.4 488.7,377.4 490.9,378.2 492.7,375.1 494.2,375.5 495.8,376.0 498.0,373.8 499.4,373.1 500.7,372.7 502.4,375.4 504.7,372.9 506.4,373.7 508.7,372.0 510.9,371.2 512.7,373.0 514.9,375.5 517.1,375.1 519.3,375.2 521.6,376.9 523.8,378.4 526.0,379.7 527.8,379.4 529.6,381.7 531.3,382.6 532.5,382.2"/>
<polyline fill="none" stroke="#8c8c8c" stroke-width="2" stroke-linejoin="round" points="54.6,410.8 56.4,407.6 58.2,405.4 59.6,404.5 61.3,405.6 62.7,405.4 64.0,406.3 65.3,404.2 67.1,401.8 68.9,400.9 70.2,399.4 71.6,401.2 73.8,401.0 75.6,403.0 77.3,405.5 79.1,403.8 80.9,403.2 83.1,404.0 84.4,402.8 86.2,400.0 87.6,399.2 89.3,400.5 91.1,402.7 92.9,404.3 94.7,405.3 96.4,406.6 98.2,406.9 100.0,407.1 101.8,409.2 103.6,408.4 105.3,409.2 106.9,408.7 108.5,409.0 109.9,410.7 111.3,412.1 112.5,412.7 113.7,413.1 114.9,413.5 116.4,414.1 117.8,414.0 119.3,414.5 121.6,413.4 123.2,414.0 124.7,415.0 126.2,415.5 127.6,415.5 129.1,415.5 130.9,415.5 132.7,415.3 134.2,414.9 135.6,414.7 137.1,414.9 138.6,414.7 140.1,414.2 141.6,414.5 143.3,414.6 145.1,414.3 146.6,413.7 148.1,413.5 149.6,412.8 150.9,413.1 152.2,414.0 154.4,412.3 156.0,412.5 157.6,413.1 158.8,413.4 160.0,414.0 160.0,406.4 162.0,405.8 164.2,404.7 166.0,404.5 167.8,402.7 170.0,400.9 171.8,402.3 174.0,404.6 175.8,403.6 178.0,401.5 179.3,400.4 180.7,400.1 182.9,401.1 184.7,402.9 186.9,400.4 188.7,398.6 190.9,399.7 192.7,399.5 194.4,400.5 196.2,401.0 198.0,403.4 200.2,405.8 202.4,407.4 204.7,407.9 206.9,406.2 209.1,406.9 211.3,407.6 213.4,409.3 215.3,411.6 217.6,412.9 219.1,413.6 220.7,414.6 222.2,414.5 223.6,414.6 225.1,414.0 226.6,414.4 228.1,414.3 229.6,414.4 231.3,414.5 233.1,414.0 234.9,414.8 236.7,415.7 238.2,414.9 239.6,413.7 241.1,412.9 242.6,412.5 244.1,412.2 245.6,412.0 246.9,412.1 248.2,412.4 249.6,412.6 250.9,413.1 252.2,412.2 253.6,411.6 255.1,412.0 256.5,411.9 258.0,412.4 260.3,411.1 260.3,408.2 262.0,407.6 263.6,407.8 265.1,408.4 266.5,406.9 267.8,404.9 270.0,404.1 271.4,403.3 272.7,403.0 274.0,404.2 275.3,405.5 277.6,401.7 278.9,401.7 280.2,401.3 281.5,399.3 282.9,398.1 284.2,398.9 285.6,399.2 286.9,400.2 288.2,400.2 289.5,400.9 290.9,401.9 292.7,401.5 294.9,400.3 296.2,402.1 297.6,403.8 298.9,402.6 300.2,401.4 301.5,401.8 302.9,402.4 304.2,402.6 305.6,403.7 306.9,404.0 308.2,404.0 310.0,406.0 311.3,408.8 313.1,407.6 314.5,408.1 315.8,409.5 317.1,409.2 318.4,409.0 319.9,407.8 321.5,407.2 323.3,411.6 325.1,413.0 326.9,413.5 328.4,413.7 329.8,414.2 331.3,414.9 332.8,415.1 334.3,415.0 335.8,415.3 337.1,415.4 338.5,414.7 339.8,414.3 341.0,414.2 342.2,414.5 343.5,415.3 344.7,415.4 346.2,415.1 347.6,415.6 349.1,415.3 350.6,415.3 352.1,414.7 353.6,415.1 355.4,414.2 357.1,414.5 359.3,412.4 360.7,413.0 362.9,410.2 365.1,411.4 367.3,411.1 369.6,407.6 371.3,408.7 373.6,406.9 375.1,405.4 376.7,404.1 377.9,403.2 379.1,402.6 380.6,402.5 382.2,402.4 383.5,400.9 384.9,398.8 387.1,396.9 388.4,397.4 389.8,400.4 392.0,402.2 393.8,404.7 395.1,404.0 396.4,404.0 398.7,402.8 400.9,403.6 402.7,400.7 404.4,398.6 406.2,400.2 408.4,401.8 410.7,405.4 412.0,406.6 413.3,408.0 415.6,407.1 417.8,408.7 419.1,409.7 420.5,410.8 421.8,411.5 423.1,412.9 424.6,413.6 426.2,414.4 427.8,414.2 429.4,414.1 430.9,414.0 432.4,414.2 433.9,414.3 435.4,415.0 436.8,414.8 438.3,415.0 439.8,414.7 441.3,415.0 442.8,414.9 444.3,414.9 445.7,414.8 447.2,415.0 448.5,414.6 449.9,414.2 451.6,414.2 453.4,414.6 454.8,412.8 456.1,411.6 458.3,413.4 459.6,413.3 461.0,413.3 462.3,414.0 464.1,413.7 465.9,413.9 467.2,412.2 468.6,411.0 470.3,412.4 471.6,411.9 473.0,411.1 475.2,412.4 477.4,409.9 478.9,409.0 480.4,407.8 481.9,408.5 483.3,408.7 484.6,406.6 486.0,404.8 487.4,404.4 488.7,404.4 490.9,405.2 492.7,402.1 494.2,402.5 495.8,403.0 498.0,400.8 499.4,400.1 500.7,399.7 502.4,402.4 504.7,399.9 506.4,400.7 508.7,399.0 510.9,398.2 512.7,400.0 514.9,402.5 517.1,402.1 519.3,402.2 521.6,403.9 523.8,405.4 526.0,406.7 527.8,406.4 529.6,408.7 531.3,409.6 532.5,409.2"/>
<polyline fill="none" stroke="#0a0a0a" stroke-width="2.3" stroke-dasharray="4.8 3.6" points="54.6,408.3 56.4,405.1 58.2,402.9 59.6,402.0 61.3,403.1 62.7,402.9 64.0,403.8 65.3,401.7 67.1,399.3 68.9,398.4 70.2,396.9 71.6,398.7 73.8,398.5 75.6,400.5 77.3,403.0 79.1,401.3 80.9,400.7 83.1,401.5 84.4,400.3 86.2,397.5 87.6,396.7 89.3,398.0 91.1,400.2 92.9,401.8 94.7,402.8 96.4,404.1 98.2,404.4 100.0,404.6 101.8,406.7 103.6,405.9 105.3,406.7 106.9,406.2 108.5,406.5 109.9,408.2 111.3,409.6 112.5,410.2 113.7,410.6 114.9,411.0 116.4,411.6 117.8,411.5 119.3,412.0 121.6,410.9 123.2,411.5 124.7,412.5 126.2,413.0 127.6,413.0 129.1,413.0 130.9,413.0 132.7,412.8 134.2,412.4 135.6,412.2 137.1,412.4 138.6,412.2 140.1,411.7 141.6,412.0 143.3,412.1 145.1,411.8 146.6,411.2 148.1,411.0 149.6,410.3 150.9,410.6 152.2,411.5 154.4,409.8 156.0,410.0 157.6,410.6 158.8,410.9 160.0,411.5 160.0,403.9 162.0,403.3 164.2,402.2 166.0,402.0 167.8,400.2 170.0,398.4 171.8,399.8 174.0,402.1 175.8,401.1 178.0,399.0 179.3,397.9 180.7,397.6 182.9,398.6 184.7,400.4 186.9,397.9 188.7,396.1 190.9,397.2 192.7,397.0 194.4,398.0 196.2,398.5 198.0,400.9 200.2,403.3 202.4,404.9 204.7,405.4 206.9,403.7 209.1,404.4 211.3,405.1 213.4,406.8 215.3,409.1 217.6,410.4 219.1,411.1 220.7,412.1 222.2,412.0 223.6,412.1 225.1,411.5 226.6,411.9 228.1,411.8 229.6,411.9 231.3,412.0 233.1,411.5 234.9,412.3 236.7,413.2 238.2,412.4 239.6,411.2 241.1,410.4 242.6,410.0 244.1,409.7 245.6,409.5 246.9,409.6 248.2,409.9 249.6,410.1 250.9,410.6 252.2,409.7 253.6,409.1 255.1,409.5 256.5,409.4 258.0,409.9 260.3,408.6 260.3,405.7 262.0,405.1 263.6,405.3 265.1,405.9 266.5,404.4 267.8,402.4 270.0,401.6 271.4,400.8 272.7,400.5 274.0,401.7 275.3,403.0 277.6,399.2 278.9,399.2 280.2,398.8 281.5,396.8 282.9,395.6 284.2,396.4 285.6,396.7 286.9,397.7 288.2,397.7 289.5,398.4 290.9,399.4 292.7,399.0 294.9,397.8 296.2,399.6 297.6,401.3 298.9,400.1 300.2,398.9 301.5,399.3 302.9,399.9 304.2,400.1 305.6,401.2 306.9,401.5 308.2,401.5 310.0,403.5 311.3,406.3 313.1,405.1 314.5,405.6 315.8,407.0 317.1,406.7 318.4,406.5 319.9,405.3 321.5,404.7 323.3,409.1 325.1,410.5 326.9,411.0 328.4,411.2 329.8,411.7 331.3,412.4 332.8,412.6 334.3,412.5 335.8,412.8 337.1,412.9 338.5,412.2 339.8,411.8 341.0,411.7 342.2,412.0 343.5,412.8 344.7,412.9 346.2,412.6 347.6,413.1 349.1,412.8 350.6,412.8 352.1,412.2 353.6,412.6 355.4,411.7 357.1,412.0 359.3,409.9 360.7,410.5 362.9,407.7 365.1,408.9 367.3,408.6 369.6,405.1 371.3,406.2 373.6,404.4 375.1,402.9 376.7,401.6 377.9,400.7 379.1,400.1 380.6,400.0 382.2,399.9 383.5,398.4 384.9,396.3 387.1,394.4 388.4,394.9 389.8,397.9 392.0,399.7 393.8,402.2 395.1,401.5 396.4,401.5 398.7,400.3 400.9,401.1 402.7,398.2 404.4,396.1 406.2,397.7 408.4,399.3 410.7,402.9 412.0,404.1 413.3,405.5 415.6,404.6 417.8,406.2 419.1,407.2 420.5,408.3 421.8,409.0 423.1,410.4 424.6,411.1 426.2,411.9 427.8,411.7 429.4,411.6 430.9,411.5 432.4,411.7 433.9,411.8 435.4,412.5 436.8,412.3 438.3,412.5 439.8,412.2 441.3,412.5 442.8,412.4 444.3,412.4 445.7,412.3 447.2,412.5 448.5,412.1 449.9,411.7 451.6,411.7 453.4,412.1 454.8,410.3 456.1,409.1 458.3,410.9 459.6,410.8 461.0,410.8 462.3,411.5 464.1,411.2 465.9,411.4 467.2,409.7 468.6,408.5 470.3,409.9 471.6,409.4 473.0,408.6 475.2,409.9 477.4,407.4 478.9,406.5 480.4,405.3 481.9,406.0 483.3,406.2 484.6,404.1 486.0,402.3 487.4,401.9 488.7,401.9 490.9,402.7 492.7,399.6 494.2,400.0 495.8,400.5 498.0,398.3 499.4,397.6 500.7,397.2 502.4,399.9 504.7,397.4 506.4,398.2 508.7,396.5 510.9,395.7 512.7,397.5 514.9,400.0 517.1,399.6 519.3,399.7 521.6,401.4 523.8,402.9 526.0,404.2 527.8,403.9 529.6,406.2 531.3,407.1 532.5,406.7"/>
<text x="46" y="11.4" font-size="13.8" text-anchor="end" fill="#1a1a1a" font-family="Liberation Sans, sans-serif">40</text>
<text x="46" y="64.5" font-size="13.8" text-anchor="end" fill="#1a1a1a" font-family="Liberation Sans, sans-serif">20</text>
<text x="46" y="117.6" font-size="13.8" text-anchor="end" fill="#1a1a1a" font-family="Liberation Sans, sans-serif">0</text>
<text x="46" y="170.7" font-size="13.8" text-anchor="end" fill="#1a1a1a" font-family="Liberation Sans, sans-serif">-20</text>
<text x="46" y="223.8" font-size="13.8" text-anchor="end" fill="#1a1a1a" font-family="Liberation Sans, sans-serif">-40</text>
<text x="46" y="245.6" font-size="13.8" text-anchor="end" fill="#1a1a1a" font-family="Liberation Sans, sans-serif">40</text>
<text x="46" y="298.6" font-size="13.8" text-anchor="end" fill="#1a1a1a" font-family="Liberation Sans, sans-serif">20</text>
<text x="46" y="351.7" font-size="13.8" text-anchor="end" fill="#1a1a1a" font-family="Liberation Sans, sans-serif">0</text>
<text x="46" y="404.8" font-size="13.8" text-anchor="end" fill="#1a1a1a" font-family="Liberation Sans, sans-serif">-20</text>
<text x="46" y="458.0" font-size="13.8" text-anchor="end" fill="#1a1a1a" font-family="Liberation Sans, sans-serif">-40</text>
<text x="541" y="52.1" font-size="13.6" fill="#1a1a1a" font-family="Liberation Sans, sans-serif">Chemically bound O</text>
<text x="541" y="77.3" font-size="13.6" fill="#1a1a1a" font-family="Liberation Sans, sans-serif">Air O uptake</text>
<text x="541" y="128.2" font-size="13.6" fill="#1a1a1a" font-family="Liberation Sans, sans-serif">Feed moisture</text>
<text x="541" y="142.8" font-size="13.6" fill="#1a1a1a" font-family="Liberation Sans, sans-serif">Drinking water</text>
<text x="541" y="166.2" font-size="13.6" fill="#1a1a1a" font-family="Liberation Sans, sans-serif">Air vapor</text>
<text x="541" y="326.3" font-size="13.6" fill="#1a1a1a" font-family="Liberation Sans, sans-serif">Organic products</text>
<text x="541" y="366.4" font-size="13.6" fill="#1a1a1a" font-family="Liberation Sans, sans-serif">Unfractionated parts</text>
<text x="541" y="387.3" font-size="13.6" fill="#1a1a1a" font-family="Liberation Sans, sans-serif">Orally exhaled water</text>
<text x="541" y="404.0" font-size="13.6" fill="#1a1a1a" font-family="Liberation Sans, sans-serif">Nasally exhaled water</text>
<text x="541" y="415.2" font-size="13.6" fill="#1a1a1a" font-family="Liberation Sans, sans-serif">Transcutaneous vapor</text>
<text x="541" y="268.3" font-size="13.6" fill="#1a1a1a" font-family="Liberation Sans, sans-serif">CO<tspan font-size="9" dy="3">2</tspan><tspan dy="-3"> production</tspan></text>
<text x="651.5" y="17.8" font-size="12" fill="#1a1a1a" font-family="Liberation Sans, sans-serif">(a)</text>
<text x="651.5" y="253.5" font-size="12" fill="#1a1a1a" font-family="Liberation Sans, sans-serif">(b)</text>
<text transform="translate(15.5,112.2) rotate(-90)" font-size="15.0" fill="#1a1a1a" font-family="Liberation Sans, sans-serif" text-anchor="middle">&#948;<tspan font-size="9.5" dy="-6.6">18</tspan><tspan dy="6.6">O (</tspan><tspan font-size="9.3" dy="-7.0">0</tspan><tspan font-size="7.5" dy="2.6" fill="#555">/</tspan><tspan font-size="9.3" dy="5.0">00</tspan><tspan dy="-0.6">)</tspan></text>
<text transform="translate(15.5,346.2) rotate(-90)" font-size="15.0" fill="#1a1a1a" font-family="Liberation Sans, sans-serif" text-anchor="middle">&#948;<tspan font-size="9.5" dy="-6.6">18</tspan><tspan dy="6.6">O (</tspan><tspan font-size="9.3" dy="-7.0">0</tspan><tspan font-size="7.5" dy="2.6" fill="#555">/</tspan><tspan font-size="9.3" dy="5.0">00</tspan><tspan dy="-0.6">)</tspan></text>
<text transform="translate(48.5,466.5) rotate(45)" font-size="13.5" font-family="Liberation Sans, sans-serif" font-weight="bold" fill="#000">29/04/2000</text>
<text transform="translate(102.5,466.5) rotate(45)" font-size="13.5" font-family="Liberation Sans, sans-serif"  fill="#222">31/10/2000</text>
<text transform="translate(154.0,466.5) rotate(45)" font-size="13.5" font-family="Liberation Sans, sans-serif" font-weight="bold" fill="#000">26/04/2001</text>
<text transform="translate(207.4,466.5) rotate(45)" font-size="13.5" font-family="Liberation Sans, sans-serif"  fill="#222">26/10/2001</text>
<text transform="translate(254.3,466.5) rotate(45)" font-size="13.5" font-family="Liberation Sans, sans-serif" font-weight="bold" fill="#000">05/04/2002</text>
<text transform="translate(315.5,466.5) rotate(45)" font-size="13.5" font-family="Liberation Sans, sans-serif"  fill="#222">01/11/2002</text>
<text transform="translate(370.7,466.5) rotate(45)" font-size="13.5" font-family="Liberation Sans, sans-serif" font-weight="bold" fill="#000">09/05/2003</text>
<text transform="translate(414.5,466.5) rotate(45)" font-size="13.5" font-family="Liberation Sans, sans-serif"  fill="#222">07/10/2003</text>
<text transform="translate(474.4,466.5) rotate(45)" font-size="13.5" font-family="Liberation Sans, sans-serif" font-weight="bold" fill="#000">30/04/2004</text>
<text transform="translate(526.8,466.5) rotate(45)" font-size="13.5" font-family="Liberation Sans, sans-serif"  fill="#222">26/10/2004</text>
</svg>
</body></html>
